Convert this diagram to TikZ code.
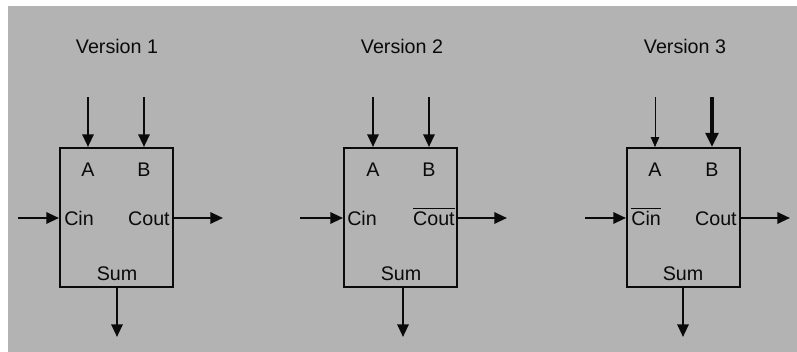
\documentclass[tikz,border=0pt]{standalone}
\usepackage{fontspec}
\setmainfont{Liberation Sans}
\usepackage{xcolor}
\usepackage{tikz}
\usetikzlibrary{arrows.meta,positioning}

\definecolor{bggray}{RGB}{179,179,179}
\definecolor{ink}{RGB}{10,10,10}

\begin{document}
\begin{tikzpicture}[
    x=0.025cm, y=-0.025cm,
    adder/.style={draw=ink, line width=1.4pt, minimum width=2.825cm,
                  minimum height=3.475cm, inner sep=0pt},
    lbl/.style={font=\fontsize{14}{16}\selectfont, text=ink, inner sep=0pt},
    arr/.style={-{Triangle[length=9pt,width=8pt]}, line width=1.6pt, draw=ink},
    thinarr/.style={-{Triangle[length=7pt,width=6pt]}, line width=0.5pt, draw=ink},
    thickarr/.style={-{Triangle[length=10pt,width=9pt]}, line width=2.4pt, draw=ink},
  ]
    \useasboundingbox (0,0) rectangle (797,352);
    \fill[bggray] (8,6) rectangle (797,352);

    % Version 1
    \node[lbl, anchor=base] (t1) at (117,54) {Version 1};
    \node[adder] (b1) at (116.5,217.5) {};
    \coordinate (a1) at (88,97);
    \coordinate (bb1) at (144,97);
    \coordinate (ci1) at (18,218);
    \coordinate (co1) at (223,218);
    \coordinate (s1) at (117,337);
    \node[lbl, anchor=base] (la1) at (88,177) {A};
    \node[lbl, anchor=base] (lb1) at (144,177) {B};
    \node[lbl, anchor=base west] (lci1) at (64,226) {Cin};
    \node[lbl, anchor=base east] (lco1) at (170,226) {Cout};
    \node[lbl, anchor=base] (ls1) at (117,281) {Sum};
    \draw[arr] (a1) -- (a1 |- b1.north);
    \draw[arr] (bb1) -- (bb1 |- b1.north);
    \draw[arr] (ci1) -- (b1.west |- ci1);
    \draw[arr] (b1.east |- co1) -- (co1);
    \draw[arr] (s1 |- b1.south) -- (s1);

    % Version 2: inverted carry out
    \node[lbl, anchor=base] (t2) at (402,54) {Version 2};
    \node[adder] (b2) at (400.5,217.5) {};
    \coordinate (a2) at (373,97);
    \coordinate (bb2) at (429,97);
    \coordinate (ci2) at (300,218);
    \coordinate (co2) at (507,218);
    \coordinate (s2) at (403,337);
    \node[lbl, anchor=base] (la2) at (373,177) {A};
    \node[lbl, anchor=base] (lb2) at (429,177) {B};
    \node[lbl, anchor=base west] (lci2) at (347,226) {Cin};
    \node[lbl, anchor=base east] (lco2) at (455,226) {$\overline{\mbox{\rule{0pt}{11.5pt}Cout}}$};
    \node[lbl, anchor=base] (ls2) at (401,281) {Sum};
    \draw[arr] (a2) -- (a2 |- b2.north);
    \draw[arr] (bb2) -- (bb2 |- b2.north);
    \draw[arr] (ci2) -- (b2.west |- ci2);
    \draw[arr] (b2.east |- co2) -- (co2);
    \draw[arr] (s2 |- b2.south) -- (s2);

    % Version 3: inverted carry in
    \node[lbl, anchor=base] (t3) at (685,54) {Version 3};
    \node[adder] (b3) at (683.5,217.5) {};
    \coordinate (a3) at (655,97);
    \coordinate (bb3) at (712,97);
    \coordinate (ci3) at (585,218);
    \coordinate (co3) at (790,218);
    \coordinate (s3) at (683,337);
    \node[lbl, anchor=base] (la3) at (655,177) {A};
    \node[lbl, anchor=base] (lb3) at (712,177) {B};
    \node[lbl, anchor=base west] (lci3) at (631,226) {$\overline{\mbox{\rule{0pt}{11.5pt}Cin}}$};
    \node[lbl, anchor=base east] (lco3) at (737,226) {Cout};
    \node[lbl, anchor=base] (ls3) at (683,281) {Sum};
    \draw[thinarr] (a3) -- (a3 |- b3.north);
    \draw[thickarr] (bb3) -- (bb3 |- b3.north);
    \draw[arr] (ci3) -- (b3.west |- ci3);
    \draw[arr] (b3.east |- co3) -- (co3);
    \draw[arr] (s3 |- b3.south) -- (s3);
  \end{tikzpicture}
\end{document}
